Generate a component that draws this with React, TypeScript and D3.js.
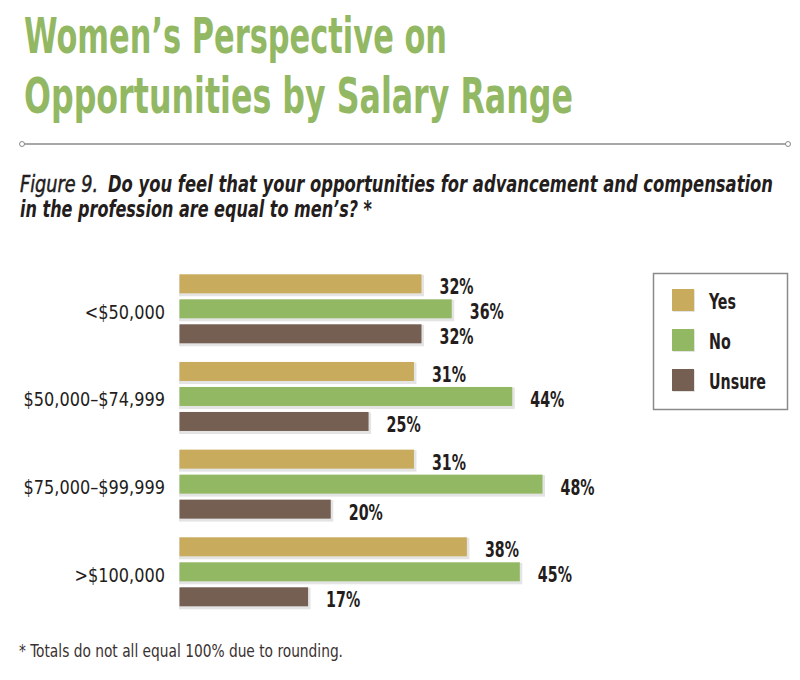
import React from "react";
import * as d3 from "d3";

const categories = ["<$50,000", "$50,000–$74,999", "$75,000–$99,999", ">$100,000"];
const seriesNames = ["Yes", "No", "Unsure"];
const yesValues = [32, 31, 31, 38];
const noValues = [36, 44, 48, 45];
const unsureValues = [32, 25, 20, 17];
const seriesColors = ["#c9ab5e", "#93b864", "#745f52"];

const W = 800;
const H = 680;
const NARROW = "'DejaVu Sans Condensed', 'Liberation Sans Narrow', sans-serif";
const DARK = "#241d1c";
const GREEN = "#93b864";

function Squeezed(props: {
  x: number;
  y: number;
  width: number;
  sx: number;
  children: React.ReactNode;
  [k: string]: any;
}) {
  const { x, y, width, sx, children, ...rest } = props;
  return (
    <text
      transform={`translate(${x},${y}) scale(${sx},1)`}
      textLength={width / sx}
      lengthAdjust="spacingAndGlyphs"
      {...rest}
    >
      {children}
    </text>
  );
}

export default function App() {
  const values = [yesValues, noValues, unsureValues];

  const x = d3.scaleLinear().domain([0, 48]).range([179.5, 542.5]);
  const yGroup = d3.scalePoint<string>().domain(categories).range([274.3, 537.3]);
  const yInner = d3.scaleBand<string>().domain(seriesNames).range([0, 69]).paddingInner(0.24).paddingOuter(0);
  const bw = yInner.bandwidth();

  return (
    <svg width={W} height={H} viewBox={`0 0 ${W} ${H}`} style={{ position: "absolute", left: 0, top: 0, background: "#fff" }}>
      {/* Title */}
      <g fontFamily={NARROW} fontWeight="bold" fill={GREEN} fontSize={50}>
        <Squeezed x={24} y={53} width={423} sx={0.78}>Women’s Perspective on</Squeezed>
        <Squeezed x={24} y={113} width={549} sx={0.78}>Opportunities by Salary Range</Squeezed>
      </g>

      {/* Rule */}
      <line x1={24} x2={786} y1={144} y2={144} stroke="#8a8a8a" strokeWidth={1.5} />
      <circle cx={22} cy={144} r={2.5} fill="#fff" stroke="#8a8a8a" strokeWidth={1} />
      <circle cx={788} cy={144} r={2.5} fill="#fff" stroke="#8a8a8a" strokeWidth={1} />

      {/* Subtitle */}
      <g fontFamily={NARROW} fontStyle="italic" fill={DARK} fontSize={23}>
        <Squeezed x={20} y={192} width={78} sx={0.78} stroke={DARK} strokeWidth={0.5}>
          Figure 9.
        </Squeezed>
        <Squeezed x={108} y={192} width={665} sx={0.78} fontWeight="bold">
          Do you feel that your opportunities for advancement and compensation
        </Squeezed>
        <Squeezed x={20} y={217} width={352} sx={0.78} fontWeight="bold">
          in the profession are equal to men’s? *
        </Squeezed>
      </g>

      {/* Bars */}
      {categories.map((cat, ci) => {
        const gy = yGroup(cat) as number;
        const ly = gy + (yInner("No") as number) + bw / 2 + 10;
        return (
          <g key={cat}>
            <text
              transform={`translate(165,${ly}) scale(0.92,1)`}
              textAnchor="end"
              fontFamily={NARROW}
              fontSize={19.5}
              fill={DARK}
            >
              {cat}
            </text>
            {seriesNames.map((s, si) => {
              const v = values[si][ci];
              const by = gy + (yInner(s) as number);
              const x1 = x(v);
              return (
                <g key={s}>
                  <rect x={x(0) - 0.5} y={by + 0.5} width={x1 - x(0) + 3} height={bw + 2.5} fill="#e4e4e4" />
                  <rect x={x(0)} y={by} width={x1 - x(0)} height={bw} fill={seriesColors[si]} />
                  <text
                    transform={`translate(${x1 + 18},${by + bw + 1}) scale(0.72,1)`}
                    fontFamily={NARROW}
                    fontWeight="bold"
                    fontSize={22}
                    fill={DARK}
                  >
                    {v}%
                  </text>
                </g>
              );
            })}
          </g>
        );
      })}

      {/* Legend */}
      <rect x={653.5} y={273.5} width={134} height={136} fill="#fff" stroke="#8a8a8a" strokeWidth={1.5} />
      {seriesNames.map((s, si) => (
        <g key={s}>
          <rect x={673} y={290 + si * 40} width={22} height={22} fill="#e4e4e4" />
          <rect x={672} y={289 + si * 40} width={22} height={22} fill={seriesColors[si]} />
          <text
            transform={`translate(709,${309 + si * 40}) scale(0.72,1)`}
            fontFamily={NARROW}
            fontWeight="bold"
            fontSize={22}
            fill={DARK}
          >
            {s}
          </text>
        </g>
      ))}

      {/* Footnote */}
      <text x={19} y={657} fontFamily={NARROW} fontSize={17} fill="#3b3131" textLength={324} lengthAdjust="spacingAndGlyphs">
        * Totals do not all equal 100% due to rounding.
      </text>
    </svg>
  );
}
